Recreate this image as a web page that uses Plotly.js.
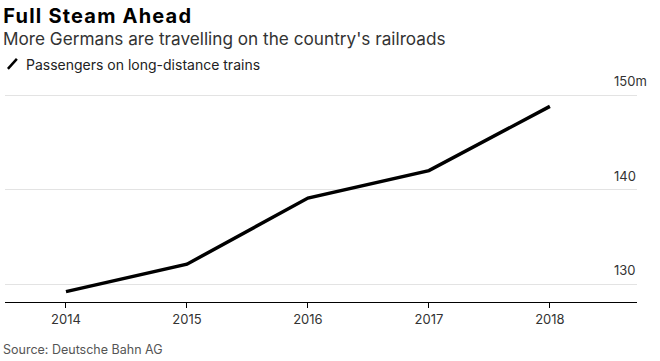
<!DOCTYPE html>
<html>
<head>
<meta charset="utf-8">
<script src="https://cdn.plot.ly/plotly-3.0.1.min.js"></script>
<style>
html,body{margin:0;padding:0;background:#fff;}
#chart{width:660px;height:361px;}
</style>
</head>
<body>
<div id="chart"></div>
<script>
// Data
const years = [2014, 2015, 2016, 2017, 2018];
const passengers = [129.2, 132.1, 139.1, 142.0, 148.8];
const yTickVals = [130, 140, 150];
const yTickText = ["130", "140", "150m"];
const xTickText = ["2014", "2015", "2016", "2017", "2018"];

const titleText = "Full Steam Ahead";
const subtitleText = "More Germans are travelling on the country's railroads";
const legendText = "Passengers on long-distance trains";
const sourceText = "Source: Deutsche Bahn AG";

const FONT = "Inter, Arial, sans-serif";

const trace = {
  x: years,
  y: passengers,
  type: "scatter",
  mode: "lines",
  line: {color: "#000000", width: 3.5},
  hoverinfo: "skip",
  showlegend: false
};

const annotations = [];
yTickVals.forEach((v, i) => {
  annotations.push({
    xref: "paper", yref: "y", x: 0.960, y: v,
    xanchor: "left", yanchor: "bottom", yshift: 4,
    text: yTickText[i], showarrow: false,
    font: {family: FONT, size: 13, color: "#333333"}
  });
});
annotations.push({
  xref: "paper", yref: "paper", x: -0.006, y: 1.189,
  xanchor: "left", yanchor: "middle",
  text: subtitleText, showarrow: false,
  font: {family: FONT, size: 17.2, color: "#333333"}
});
annotations.push({
  xref: "paper", yref: "paper", x: 0.03, y: 1.072,
  xanchor: "left", yanchor: "middle",
  text: legendText, showarrow: false,
  font: {family: FONT, size: 14, color: "#222222"}
});
annotations.push({
  xref: "paper", yref: "paper", x: -0.006, y: -0.212,
  xanchor: "left", yanchor: "middle",
  text: sourceText, showarrow: false,
  font: {family: FONT, size: 12.5, color: "#555555"}
});

const layout = {
  width: 660, height: 361,
  margin: {l: 5, r: 23, t: 80, b: 59, pad: 0},
  paper_bgcolor: "#ffffff",
  plot_bgcolor: "#ffffff",
  title: {
    text: '<span style="letter-spacing:1.2px"><b>' + titleText + '</b></span>',
    x: 0.005, xanchor: "left", xref: "container",
    y: 0.956, yanchor: "middle", yref: "container",
    font: {family: FONT, size: 20, color: "#000000"}
  },
  xaxis: {
    range: [2013.496, 2018.72],
    tickvals: years,
    ticktext: xTickText,
    showgrid: false,
    zeroline: false,
    showline: true,
    linecolor: "#000000",
    linewidth: 1,
    ticks: "outside",
    ticklen: 5,
    tickcolor: "#000000",
    tickwidth: 1,
    tickfont: {family: FONT, size: 13, color: "#333333"},
    fixedrange: true
  },
  yaxis: {
    range: [128.1, 151.59],
    tickvals: yTickVals,
    showticklabels: false,
    showgrid: true,
    gridcolor: "#e3e3e3",
    gridwidth: 1,
    zeroline: false,
    showline: false,
    ticks: "",
    fixedrange: true
  },
  shapes: [{
    type: "line", xref: "paper", yref: "paper",
    x0: 0.0046, y0: 1.05, x1: 0.0188, y1: 1.095,
    line: {color: "#000000", width: 2.5}
  }],
  annotations: annotations,
  showlegend: false
};

Plotly.newPlot("chart", [trace], layout, {displayModeBar: false, staticPlot: true});
</script>
</body>
</html>
